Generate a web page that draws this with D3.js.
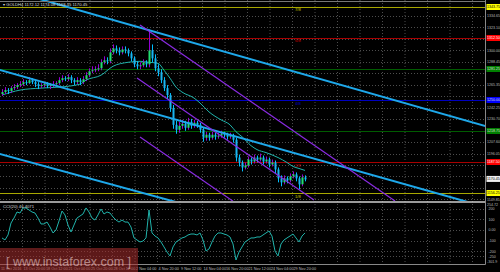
<!DOCTYPE html>
<html>
<head>
<meta charset="utf-8">
<script src="https://cdn.jsdelivr.net/npm/d3@7"></script>
<style>
html, body { margin: 0; padding: 0; background: #000; overflow: hidden; }
</style>
</head>
<body>
<script>
// GOLD H4 candles (open = previous close)
const firstOpen = 1256;
const closes = [1258,1260,1259,1262,1263,1265,1266,1268,1267,1270,
  1268,1266,1264,1265,1266,1264,1265,1266,1267,1270,
  1272,1271,1273,1270,1268,1270,1268,1271,1275,1279,
  1280,1281,1282,1288,1290,1289,1298,1302,1300,1298,
  1301,1300,1297,1292,1286,1284,1285,1288,1286,1300,
  1292,1282,1278,1270,1262,1255,1242,1225,1220,1224,
  1226,1222,1228,1224,1227,1225,1220,1212,1215,1212,
  1215,1213,1214,1216,1215,1213,1214,1210,1192,1187,
  1182,1184,1190,1188,1192,1190,1192,1188,1190,1185,
  1187,1180,1171,1167,1171,1169,1173,1175,1171,1165,
  1172,1170];
const highs = [1261,1263,1262,1264,1266,1267,1269,1271,1270,1273,
  1272,1270,1268,1267,1268,1268,1267,1269,1269,1273,
  1275,1274,1276,1275,1272,1273,1272,1274,1278,1282,
  1284,1284,1286,1291,1294,1293,1302,1306,1305,1303,
  1304,1304,1302,1299,1294,1289,1288,1291,1290,1321,
  1306,1296,1286,1281,1273,1265,1257,1245,1229,1228,
  1230,1229,1232,1231,1230,1229,1227,1222,1218,1217,
  1218,1217,1217,1219,1218,1217,1217,1216,1212,1195,
  1189,1187,1193,1192,1195,1194,1196,1194,1193,1192,
  1190,1189,1182,1174,1174,1173,1176,1178,1177,1173,
  1175,1174];
const lows = [1254,1256,1256,1257,1260,1261,1263,1264,1265,1266,
  1266,1263,1261,1262,1263,1262,1261,1263,1264,1265,
  1268,1269,1269,1267,1265,1266,1265,1266,1269,1273,
  1277,1278,1279,1280,1286,1286,1287,1296,1297,1295,
  1296,1297,1294,1289,1283,1281,1281,1283,1283,1283,
  1288,1279,1274,1267,1259,1251,1238,1221,1216,1217,
  1221,1219,1220,1221,1222,1222,1217,1208,1209,1209,
  1210,1210,1211,1212,1212,1210,1211,1207,1188,1183,
  1178,1180,1182,1185,1186,1187,1188,1185,1186,1182,
  1183,1176,1167,1163,1165,1166,1167,1171,1168,1160,
  1163,1168];

// moving average (bar index, price)
const maIdx = [0,6,13,19,26,28,33,37,42,46,49,52,54,56,58,60,64,66,69,73,76,78,80,83,85,88,92,95,97,99,101];
const maVals = [1255,1260,1262,1263,1266,1270,1275,1284,1288,1289,1288,1287,1280,1272,1263,1258,1252,1247,1238,1230,1225,1218,1213,1204,1200,1197,1192,1187,1183,1181,1179];

// CCI(20) per bar
const cciVals = [-75,-94,-47,66,113,170,160,208,208,189,
  170,160,113,57,57,75,28,-28,0,85,
  179,142,47,-19,47,113,132,151,208,170,
  113,94,142,198,151,170,160,123,94,75,
  94,75,75,28,-75,-94,-113,-104,-75,189,
  -28,-57,-75,-113,-160,-208,-245,-160,-113,-94,
  -75,-66,-47,-38,-38,-47,-28,-94,-198,-179,
  -113,-57,-28,-28,-38,-47,-66,-132,-283,-208,
  -160,-113,-94,-75,-75,-66,-66,-47,-28,-9,
  -57,-198,-245,-132,-94,-75,-57,-38,-75,-113,
  -57,-28];

const priceTicks = [1334.65,1323.10,1311.55,1300.00,1288.45,1276.90,1265.35,1253.80,1242.25,1230.70,1219.15,1207.60,1196.05,1184.50,1172.95,1161.40,1149.85];
const mmLevels = [1343.75,1312.50,1281.25,1250.00,1218.75,1187.50,1156.25];
const mmNames = ["7/8","6/8","5/8","4/8","3/8","2/8","1/8"];
const mmLine = ["#a8a800","#a80000","#005c00","#0000c0","#005c00","#a80000","#a8a800"];
const mmTag = ["#ffff00","#ff0000","#008000","#0000ff","#008000","#ff0000","#ffff00"];
const mmTagText = ["#000","#fff","#ddd","#ddd","#ddd","#fff","#000"];
const lastPrice = 1170.45;

const cciTicks = [200,100,0,-100,-200,-250];
const cciMax = 254.7170, cciMin = -301.8868;

const timeLabels = ["11 Oct 2016","13 Oct 20:00","18 Oct 12:00","21 Oct 04:00","25 Oct 20:00","28 Oct 12:00","2 Nov 04:00","4 Nov 20:00","9 Nov 12:00","14 Nov 04:00","16 Nov 20:00","21 Nov 12:00","24 Nov 04:00","29 Nov 20:00"];

// trend lines as (bar index, price) anchors
const cyanLines = [
  [[16,1348.8],[161,1223.8]],
  [[0,1279.6],[161,1142.3]],
  [[0,1195.1],[101,1111.6]]
];
const purpleLines = [
  [[46,1325.6],[131,1148.2]],
  [[45,1272.2],[104,1149.1]],
  [[46,1212.7],[77,1148.0]]
];

const W = 500, H = 272, axisX = 485.5;
const mainBot = 201, cciTop = 203, cciBot = 262, botAxis = 264.5;
const gridStep = 22.5;

const svg = d3.select("body").append("svg")
  .attr("width", W).attr("height", H)
  .style("display", "block").style("background", "#000");

const x = d3.scaleLinear().domain([0, closes.length - 1]).range([2, 305]);
const y = d3.scaleLinear().domain([1148.2, 1350.8]).range([mainBot, 0]);
const yc = d3.scaleLinear().domain([cciMin, cciMax]).range([cciBot, cciTop]);

const defs = svg.append("defs");
defs.append("clipPath").attr("id", "cm").append("rect")
  .attr("x", 0).attr("y", 0).attr("width", axisX).attr("height", mainBot);
defs.append("clipPath").attr("id", "cc").append("rect")
  .attr("x", 0).attr("y", mainBot + 1).attr("width", axisX).attr("height", botAxis - mainBot - 1);

const font = "Liberation Sans, Arial, sans-serif";
const gridCol = "#4d4d4d";
const fs = 4.2;    // chart texts
const afs = 3.6;   // right axis texts
const tfs = 3.8;   // time axis texts

// grid
const gx = d3.range(gridStep, axisX, gridStep);
svg.append("g").selectAll("line").data(gx).join("line")
  .attr("x1", d => d).attr("x2", d => d)
  .attr("y1", 0).attr("y2", botAxis)
  .attr("stroke", gridCol).attr("stroke-width", 1).attr("stroke-dasharray", "1,2");
svg.append("g").selectAll("line").data(priceTicks).join("line")
  .attr("x1", 0).attr("x2", axisX)
  .attr("y1", d => Math.round(y(d)) + 0.5).attr("y2", d => Math.round(y(d)) + 0.5)
  .attr("stroke", gridCol).attr("stroke-dasharray", "1,2");
svg.append("g").selectAll("line").data(cciTicks).join("line")
  .attr("x1", 0).attr("x2", axisX)
  .attr("y1", d => Math.round(yc(d)) + 0.5).attr("y2", d => Math.round(yc(d)) + 0.5)
  .attr("stroke", gridCol).attr("stroke-dasharray", "1,2");

const main = svg.append("g").attr("clip-path", "url(#cm)");

// Murrey lines
main.selectAll("line.mm").data(mmLevels).join("line")
  .attr("class", "mm")
  .attr("x1", 0).attr("x2", axisX)
  .attr("y1", d => Math.round(y(d)) + 0.5).attr("y2", d => Math.round(y(d)) + 0.5)
  .attr("stroke", (d, i) => mmLine[i]).attr("stroke-width", 1);
main.selectAll("text.mm").data(mmLevels).join("text")
  .attr("class", "mm")
  .attr("x", 295).attr("y", d => y(d) + 4.5)
  .attr("font-family", font).attr("font-size", fs)
  .attr("fill", (d, i) => mmTag[i]).attr("opacity", 0.75)
  .text((d, i) => mmNames[i]);

// moving average
main.append("path")
  .datum(maIdx.map((d, i) => [d, maVals[i]]))
  .attr("fill", "none").attr("stroke", "#20b2aa").attr("stroke-width", 1)
  .attr("d", d3.line().x(d => x(d[0])).y(d => y(d[1])).curve(d3.curveMonotoneX));

// candles
const bars = closes.map((c, i) => ({
  i, o: i === 0 ? firstOpen : closes[i - 1], c, h: highs[i], l: lows[i]
}));
const cg = main.append("g");
cg.selectAll("line").data(bars).join("line")
  .attr("x1", d => Math.round(x(d.i)) + 0.5).attr("x2", d => Math.round(x(d.i)) + 0.5)
  .attr("y1", d => y(d.h)).attr("y2", d => y(d.l))
  .attr("stroke", d => d.c >= d.o ? "#9400d3" : "#00bfff").attr("stroke-width", 1);
cg.selectAll("rect").data(bars).join("rect")
  .attr("x", d => Math.round(x(d.i)) - 0.5).attr("width", 2)
  .attr("y", d => y(Math.max(d.o, d.c)))
  .attr("height", d => Math.max(1, Math.abs(y(d.o) - y(d.c))))
  .attr("fill", d => d.c >= d.o ? "#22e070" : "#19b4f0");

// trend lines
function lineThrough(seg, ray) {
  const [a, b] = seg;
  const x1 = x(a[0]), y1 = y(a[1]), x2 = x(b[0]), y2 = y(b[1]);
  if (!ray) return [x1, y1, x2, y2];
  const k = (y2 - y1) / (x2 - x1);
  return [-10, y1 + k * (-10 - x1), axisX + 10, y1 + k * (axisX + 10 - x1)];
}
main.selectAll("line.cy").data(cyanLines).join("line")
  .attr("class", "cy")
  .each(function(d) {
    const p = lineThrough(d, true);
    d3.select(this).attr("x1", p[0]).attr("y1", p[1]).attr("x2", p[2]).attr("y2", p[3]);
  })
  .attr("stroke", "#1ea8ea").attr("stroke-width", 2);
main.selectAll("line.pu").data(purpleLines).join("line")
  .attr("class", "pu")
  .each(function(d) {
    const p = lineThrough(d, false);
    d3.select(this).attr("x1", p[0]).attr("y1", p[1]).attr("x2", p[2]).attr("y2", p[3]);
  })
  .attr("stroke", "#8a2be2").attr("stroke-width", 1.2);

// CCI
const cg2 = svg.append("g").attr("clip-path", "url(#cc)");
cg2.append("path").datum(cciVals)
  .attr("fill", "none").attr("stroke", "#20b2aa").attr("stroke-width", 1)
  .attr("d", d3.line().x((d, i) => x(i)).y(d => yc(d)));

// frame
svg.append("line").attr("x1", 0).attr("x2", axisX).attr("y1", 1.5).attr("y2", 1.5)
  .attr("stroke", "#777");
svg.append("line").attr("x1", 0).attr("x2", axisX).attr("y1", mainBot + 1).attr("y2", mainBot + 1)
  .attr("stroke", "#cfcfcf").attr("stroke-width", 1.5);
svg.append("line").attr("x1", 0).attr("x2", axisX).attr("y1", botAxis).attr("y2", botAxis)
  .attr("stroke", "#888");
svg.append("line").attr("x1", axisX).attr("x2", axisX).attr("y1", 0).attr("y2", botAxis)
  .attr("stroke", "#888");

// price axis labels (plain ticks hidden under the coloured tags)
const ax = svg.append("g").attr("font-family", font).attr("font-size", afs);
const tags = mmLevels.map((v, i) => ({ v, bg: mmTag[i], fg: mmTagText[i] }))
  .concat([{ v: lastPrice, bg: "#f0f0f0", fg: "#000" }]);
const freeTicks = priceTicks.filter(t => tags.every(g => Math.abs(y(g.v) - y(t)) > 5.5));
ax.selectAll("text.t").data(freeTicks).join("text")
  .attr("class", "t")
  .attr("x", axisX + 1.5).attr("y", d => y(d) + 1.3)
  .attr("fill", "#bbb").text(d => d.toFixed(2));
ax.selectAll("rect.tag").data(tags).join("rect")
  .attr("class", "tag")
  .attr("x", axisX + 1).attr("y", d => y(d.v) - 3)
  .attr("width", W - axisX).attr("height", 6).attr("fill", d => d.bg);
ax.selectAll("text.tag").data(tags).join("text")
  .attr("class", "tag")
  .attr("x", axisX + 1.5).attr("y", d => y(d.v) + 1.3)
  .attr("fill", d => d.fg).text(d => d.v.toFixed(2));

// CCI axis labels
ax.selectAll("text.c").data(cciTicks).join("text")
  .attr("class", "c")
  .attr("x", axisX + 3).attr("y", d => yc(d) + 1.3)
  .attr("fill", "#bbb").text(d => d === 0 ? "0.00" : d);
ax.append("text").attr("x", axisX + 1.5).attr("y", cciTop + 3)
  .attr("fill", "#bbb").text(cciMax.toFixed(2));
ax.append("text").attr("x", axisX + 1.5).attr("y", cciBot + 1.3)
  .attr("fill", "#bbb").text(cciMin.toFixed(1));

// time labels
svg.append("g").attr("font-family", font).attr("font-size", tfs)
  .selectAll("text").data(timeLabels).join("text")
  .attr("x", (d, i) => i * gridStep + 1).attr("y", 269.5)
  .attr("fill", "#bbb").text(d => d);

// titles
svg.append("text").attr("x", 3).attr("y", 6)
  .attr("font-family", font).attr("font-size", fs).attr("fill", "#ddd")
  .text("\u25BE GOLDH4  1172.12 1174.08 1168.45 1170.45");
svg.append("text").attr("x", 3).attr("y", cciTop + 5)
  .attr("font-family", font).attr("font-size", fs).attr("fill", "#ddd")
  .text("CCI(20) 46.4071");

// watermark
svg.append("rect").attr("x", 0).attr("y", 248).attr("width", 138).attr("height", 24)
  .attr("fill", "rgb(170,45,45)").attr("opacity", 0.55);
svg.append("text").attr("x", 6).attr("y", 265.5)
  .attr("font-family", font).attr("font-size", 12.5)
  .attr("fill", "rgba(255,225,225,0.55)")
  .text("[ www.instaforex.com ]");
</script>
</body>
</html>
